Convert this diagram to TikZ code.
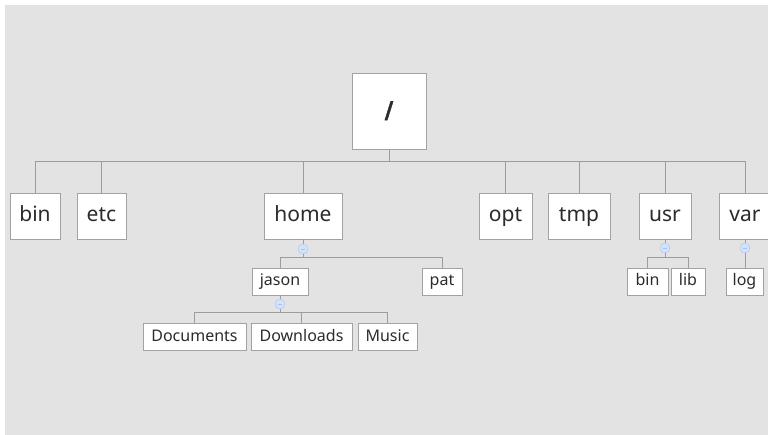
\documentclass[tikz,border=0pt]{standalone}
\usepackage{fontspec}
\setmainfont{Noto Sans}
\newfontfamily\rootfont{DejaVu Sans}[FakeBold=1.5]
\definecolor{bgray}{HTML}{E3E3E3}
\definecolor{boxline}{HTML}{A2A2A2}
\definecolor{treeline}{HTML}{9C9C9C}
\definecolor{textgray}{HTML}{2B2B2B}
\definecolor{minusfill}{HTML}{D3E2FB}
\definecolor{minusline}{HTML}{A8C3F0}
\tikzset{
  collapse/.style={circle, draw=minusline, fill=minusfill, minimum size=10pt, inner sep=0pt,
    path picture={\draw[minusline, line width=0.6pt]
      ([xshift=-2pt]path picture bounding box.center) -- ([xshift=2pt]path picture bounding box.center);}}
}
\begin{document}
\begin{tikzpicture}[x=1pt, y=-1pt]

        \useasboundingbox (0,0) rectangle (768,435);
        \fill[bgray] (5,5) rectangle (768,435);

        % top level
        \begin{scope}[every node/.style={draw=boxline, fill=white, text=textgray, line width=0.8pt,
            font=\fontsize{21}{24}\selectfont, minimum height=46pt, inner xsep=2pt, inner ysep=0pt,
            text height=16pt, text depth=5pt}]
          \node[minimum width=74pt, minimum height=76pt, text height=17pt, text depth=3pt]
            (root) at (389,111) {\rootfont\bfseries\fontsize{23}{26}\selectfont /};
          \node[minimum width=50pt] (bin)  at (35,216)    {bin};
          \node[minimum width=49pt] (etc)  at (101.5,216) {etc};
          \node[minimum width=78pt] (home) at (303,216)   {home};
          \node[minimum width=53pt] (opt)  at (505.5,216) {opt};
          \node[minimum width=62pt] (tmp)  at (579,216)   {tmp};
          \node[minimum width=52pt] (usr)  at (665,216)   {usr};
          \node[minimum width=52pt] (var)  at (745,216)   {var};
        \end{scope}

        % sub folders
        \begin{scope}[every node/.style={draw=boxline, fill=white, text=textgray, line width=0.8pt,
            font=\fontsize{16}{19}\selectfont, minimum height=27pt, inner xsep=2pt, inner ysep=0pt,
            text height=12.5pt, text depth=3.5pt}]
          \node[minimum width=56pt]  (jason)     at (280,281.5)   {jason};
          \node[minimum width=40pt]  (pat)       at (442,281.5)   {pat};
          \node[minimum width=103pt] (documents) at (194.5,337)   {Documents};
          \node[minimum width=101pt] (downloads) at (301.5,337)   {Downloads};
          \node[minimum width=59pt]  (music)     at (387.5,337)   {Music};
          \node[minimum width=41pt]  (usrbin)    at (647.5,281.5) {bin};
          \node[minimum width=34pt]  (lib)       at (688,281.5)   {lib};
          \node[minimum width=37pt]  (log)       at (744.5,281.5) {log};
        \end{scope}

        \begin{scope}[every path/.style={draw=treeline, line width=0.8pt}]
          \coordinate (rootbus)  at (389,161);
          \coordinate (homebus)  at (303,257);
          \coordinate (jasonbus) at (280,312);
          \coordinate (usrbus)   at (665,257);

          \draw (root.south) -- (rootbus);
          \draw (rootbus) -| (bin.north);
          \draw (rootbus) -| (etc.north);
          \draw (rootbus) -| (home.north);
          \draw (rootbus) -| (opt.north);
          \draw (rootbus) -| (tmp.north);
          \draw (rootbus) -| (usr.north);
          \draw (rootbus) -| (var.north);

          \draw (home.south) -- (homebus);
          \draw (homebus) -| (jason.north);
          \draw (homebus) -| (pat.north);

          \draw (jason.south) -- (jasonbus);
          \draw (jasonbus) -| (documents.north);
          \draw (jasonbus) -| (downloads.north);
          \draw (jasonbus) -| (music.north);

          \draw (usr.south) -- (usrbus);
          \draw (usrbus) -| (usrbin.north);
          \draw (usrbus) -| (lib.north);

          \draw (var.south) -- (var.south |- log.north);
        \end{scope}

        % collapse buttons
        \node[collapse] (homeminus)  at (303,249) {};
        \node[collapse] (jasonminus) at (280,304) {};
        \node[collapse] (usrminus)   at (665,248) {};
        \node[collapse] (varminus)   at (745,248) {};

      \end{tikzpicture}
\end{document}
